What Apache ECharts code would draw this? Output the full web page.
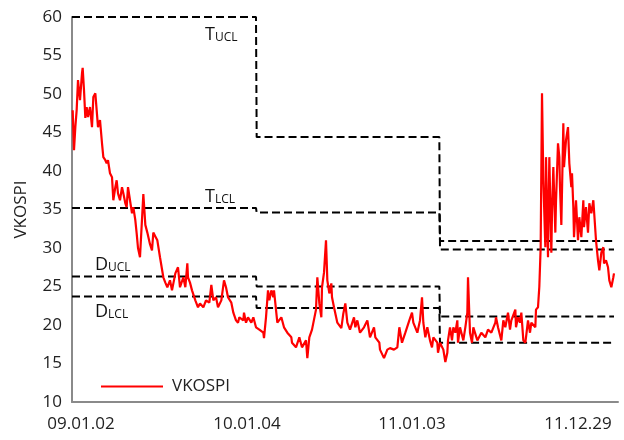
<!DOCTYPE html>
<html>
<head>
<meta charset="utf-8">
<script src="https://cdn.jsdelivr.net/npm/echarts@6/dist/echarts.min.js"></script>
<style>html,body{margin:0;padding:0;background:#fff}#c{width:624px;height:440px}</style>
</head>
<body>
<div id="c"></div>
<script>
// trading-day index (x) and VKOSPI values
const days = [1,3,5,7,9,12,15,16,18,20,22,24,27,30,32,35,37,39,42,45,47,50,52,54,57,60,62,65,67,69,72,75,77,80,82,84,87,90,92,95,97,99,102,107,110,113,117,120,122,125,128,132,137,140,143,147,150,155,159,162,167,170,173,174,177,180,185,189,192,197,201,206,209,212,216,219,224,228,231,234,239,242,246,249,251,257,258,261,264,269,272,276,281,287,288,291,294,296,299,302,303,308,314,318,323,329,330,336,341,345,351,353,356,360,366,368,371,374,375,378,381,383,386,389,390,393,398,404,407,410,413,417,423,425,428,432,438,443,447,453,455,461,462,468,473,477,483,488,491,495,500,506,510,512,518,522,525,527,530,533,537,540,542,548,549,552,557,560,563,564,567,570,572,575,578,579,582,587,590,593,594,597,600,602,608,614,620,624,629,635,636,639,644,647,650,654,657,659,665,666,669,672,674,677,680,681,684,687,689,695,696,699,701,703,705,707,710,711,714,716,719,720,722,725,726,729,731,732,734,737,738,741,744,746,749,750,752,753,756,759,761,764,767,768,771,774,776,779,782,783,786,789,791,794,797,798,801,804,806,809,812,813];
const vkospi = [47.9,42.7,45.7,47.9,51.8,49.2,52.7,53.4,50.5,46.9,48.3,47.0,48.3,45.7,49.6,50.1,47.9,45.7,46.6,43.6,41.8,41.4,41.0,41.4,39.7,39.2,36.2,37.9,38.8,37.1,36.2,37.9,37.1,35.8,35.3,37.9,36.2,34.5,35.3,33.6,31.9,30.0,28.8,37.0,33.0,32.0,30.5,29.7,32.0,31.5,31.0,28.8,26.2,25.5,24.9,25.8,24.5,26.7,27.5,24.9,26.2,24.9,28.0,26.2,25.5,24.5,23.2,22.3,22.8,22.3,23.2,22.9,25.2,23.2,23.6,22.3,23.2,25.8,24.9,23.6,22.9,21.6,20.6,20.3,21.0,20.6,21.6,20.3,21.0,20.3,21.0,19.7,19.4,19.0,18.3,21.0,24.5,23.2,24.5,23.6,24.5,20.3,21.0,19.7,19.0,18.4,17.7,17.1,18.4,17.1,18.0,15.7,18.4,19.4,22.0,26.2,22.8,21.0,24.9,26.8,31.0,25.8,24.1,25.4,23.6,22.3,20.3,19.6,21.5,22.8,20.3,19.4,21.0,19.7,20.6,19.0,19.7,20.6,18.4,19.7,18.4,17.7,16.8,15.7,16.8,17.0,16.8,17.1,19.7,17.7,19.0,20.6,21.6,20.3,19.0,20.6,23.6,20.3,18.4,19.7,18.0,17.1,18.4,17.7,16.4,17.7,16.8,15.2,16.4,18.0,19.7,18.0,19.7,19.0,20.6,17.7,19.7,18.0,19.7,21.6,26.2,19.0,17.7,19.7,18.0,19.0,18.4,19.4,19.0,20.3,21.0,19.7,18.0,20.6,19.7,21.6,19.4,20.6,22.0,19.7,21.0,20.3,21.6,18.0,17.7,18.4,20.6,19.0,20.3,19.7,22.0,22.3,25.0,30.1,50.1,38.8,30.1,41.8,28.8,41.8,29.4,34.5,40.5,32.0,36.0,43.6,41.8,37.9,33.0,46.2,40.5,44.0,45.7,41.0,37.9,39.7,35.3,31.4,36.2,31.0,34.0,31.4,36.2,32.7,35.3,32.0,35.8,34.5,36.2,34.9,31.0,28.4,27.1,29.4,30.1,28.0,28.4,27.5,25.8,24.9,26.2,26.7];

// control-limit regimes: start day of each regime, last day
const regimeStarts = [0, 276, 551];
const lastDay = 813;
const tUCL = [60.0, 44.4, 29.8];
const tLCL = [35.2, 34.6, 30.9];
const dUCL = [26.3, 25.0, 21.1];
const dLCL = [23.7, 22.2, 17.7];

// x tick labels and their trading-day positions
const tickDays = [13.5, 262.5, 510, 759];
const tickLabels = ['09.01.02', '10.01.04', '11.01.03', '11.12.29'];

const FONT = 'Open Sans';

function stepLine(vals) {
  const pts = [];
  for (let i = 0; i < vals.length; i++) {
    const s = regimeStarts[i] + (i > 0 ? 1 : 0);
    const e = i + 1 < vals.length ? regimeStarts[i + 1] : lastDay;
    pts.push([s, vals[i]]);
    pts.push([e, vals[i]]);
  }
  return pts;
}

function dashSeries(name, vals) {
  return {
    name: name, type: 'line', data: stepLine(vals), symbol: 'none', silent: true,
    lineStyle: { color: '#000', width: 2, type: [8, 4] }, z: 3
  };
}

function lbl(main, sub, left, top) {
  return {
    type: 'text', left: left, top: top,
    style: {
      text: '{m|' + main + '}{s|' + sub + '}',
      rich: {
        m: { fontSize: 18, fontFamily: FONT, fill: '#111', lineHeight: 18, verticalAlign: 'bottom' },
        s: { fontSize: 12, fontFamily: FONT, fill: '#111', lineHeight: 14, verticalAlign: 'bottom' }
      }
    }
  };
}

const chart = echarts.init(document.getElementById('c'), null, { renderer: 'canvas' });
chart.setOption({
  animation: false,
  backgroundColor: '#fff',
  textStyle: { fontFamily: FONT },
  grid: { left: 72, right: 6, top: 17, bottom: 38 },
  legend: {
    data: [{ name: 'VKOSPI', icon: 'rect' }], left: 96, top: 373, itemWidth: 62, itemHeight: 2,
    itemStyle: { color: '#ff0000' },
    textStyle: { fontSize: 17, lineHeight: 17, color: '#222', fontFamily: FONT, padding: [0, 0, 0, 4] }
  },
  xAxis: {
    type: 'value', min: 0, max: 819,
    axisLine: { lineStyle: { color: '#8a8a8a', width: 2 } },
    axisTick: { show: false },
    splitLine: { show: false },
    axisLabel: {
      customValues: tickDays, margin: 14, fontSize: 17, color: '#222', fontFamily: FONT,
      formatter: function (v) {
        const i = tickDays.indexOf(v);
        return i >= 0 ? tickLabels[i] : '';
      }
    }
  },
  yAxis: {
    type: 'value', min: 10, max: 60, interval: 5,
    name: 'VKOSPI', nameLocation: 'middle', nameGap: 42,
    nameTextStyle: { fontSize: 17, color: '#222', fontFamily: FONT },
    axisLine: { show: true, lineStyle: { color: '#8a8a8a', width: 2 } },
    axisTick: { show: false },
    splitLine: { show: false },
    axisLabel: { margin: 10, fontSize: 17, color: '#222', fontFamily: FONT }
  },
  series: [
    dashSeries('TUCL', tUCL),
    dashSeries('TLCL', tLCL),
    dashSeries('DUCL', dUCL),
    dashSeries('DLCL', dLCL),
    {
      name: 'VKOSPI', type: 'line', symbol: 'none',
      data: days.map((d, i) => [d, vkospi[i]]),
      lineStyle: { color: '#ff0000', width: 2.2 }, itemStyle: { color: '#ff0000' }, z: 4
    }
  ],
  graphic: [
    lbl('T', 'UCL', 205, 26),
    lbl('T', 'LCL', 205, 188),
    lbl('D', 'UCL', 95, 256),
    lbl('D', 'LCL', 95, 303)
  ]
});
</script>
</body>
</html>
